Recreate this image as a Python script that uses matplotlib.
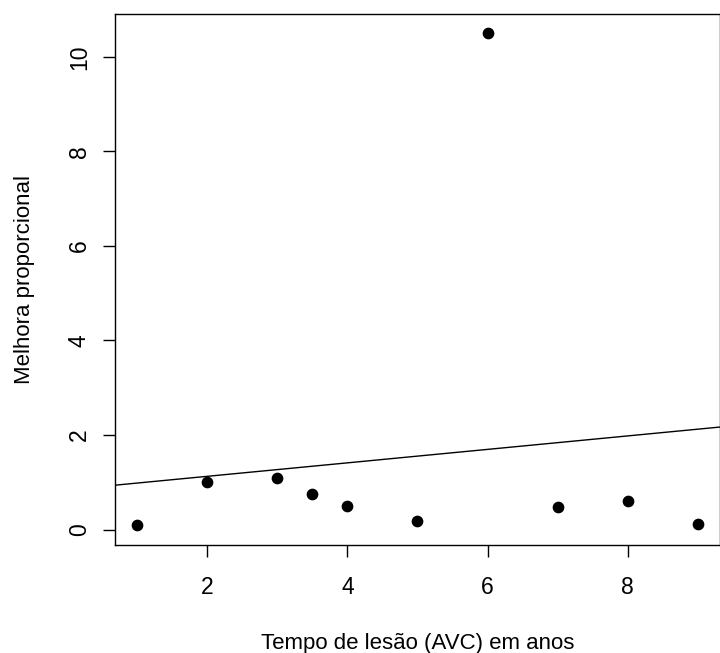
import numpy as np
import matplotlib
matplotlib.use("Agg")
import matplotlib.pyplot as plt

plt.rcParams['font.family'] = ['Liberation Sans', 'DejaVu Sans']

# time since stroke (years) and proportional improvement
tempo = [1, 2, 3, 3.5, 4, 5, 6, 7, 8, 9]
melhora = [0.1, 1.0, 1.09, 0.75, 0.49, 0.19, 10.5, 0.48, 0.6, 0.12]
xticks = [2, 4, 6, 8]
yticks = [0, 2, 4, 6, 8, 10]

fig = plt.figure(figsize=(7.2, 6.53), dpi=100)
ax = fig.add_axes([114.5 / 720, (653 - 544.5) / 653, (720.4 - 114.5) / 720, (544.5 - 13.5) / 653])

ax.scatter(tempo, melhora, s=55, color='black', zorder=3)

# least squares line (abline(lm(...)))
b, a = np.polyfit(tempo, melhora, 1)
xr = (min(tempo), max(tempo))
pad = 0.04 * (xr[1] - xr[0])
xlim = (xr[0] - pad, xr[1] + pad)
yr = (min(melhora), max(melhora))
ypad = 0.04 * (yr[1] - yr[0])
ylim = (yr[0] - ypad, yr[1] + ypad)
xs = np.array(xlim)
ax.plot(xs, a + b * xs, color='black', linewidth=1)

ax.set_xlim(xlim)
ax.set_ylim(ylim)
ax.set_xticks(xticks)
ax.set_yticks(yticks)
ax.tick_params(length=8.5, width=1, labelsize=16.5)
ax.tick_params(axis='x', pad=14.5)
ax.tick_params(axis='y', pad=8.5)
for lab in ax.get_yticklabels():
    lab.set_rotation(90)
    lab.set_va('center')
for sp in ax.spines.values():
    sp.set_linewidth(1)

ax.set_xlabel('Tempo de lesão (AVC) em anos', fontsize=16, labelpad=24.5)
ax.set_ylabel('Melhora proporcional', fontsize=16, labelpad=23.5)

fig.savefig('out.png', dpi=100)
